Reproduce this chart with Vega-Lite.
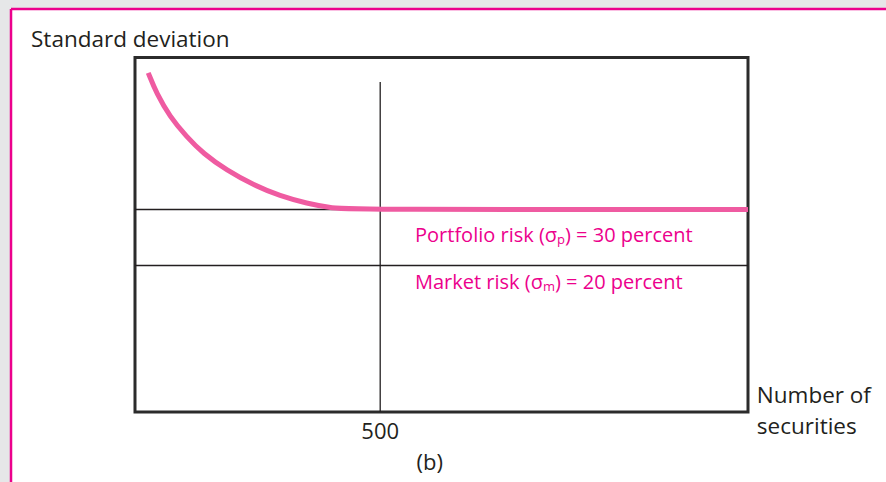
{
  "$schema": "https://vega.github.io/schema/vega-lite/v6.json",
  "width": 875,
  "height": 473,
  "autosize": {"type": "none"},
  "padding": {"left": 11, "top": 9, "right": 0, "bottom": 0},
  "background": "#e6e7e8",
  "config": {"view": {"fill": "white", "stroke": null}, "font": "Open Sans"},
  "datasets": {
    "curve": [
      {"x": 27, "y": 54.4}, {"x": 44, "y": 50.7}, {"x": 71, "y": 46.6}, {"x": 105, "y": 43.0},
      {"x": 139, "y": 40.0}, {"x": 187, "y": 37.0}, {"x": 241, "y": 34.4}, {"x": 296, "y": 32.4},
      {"x": 350, "y": 31.1}, {"x": 404, "y": 30.2}, {"x": 445, "y": 30}, {"x": 1250, "y": 30}
    ],
    "segments": [
      {"x": 0, "x2": 1250, "y": 30, "y2": 30},
      {"x": 0, "x2": 1250, "y": 20, "y2": 20},
      {"x": 500, "x2": 500, "y": -6.16, "y2": 52.77}
    ],
    "box": [{"x": 0, "x2": 1250, "y": -6.16, "y2": 57.14}],
    "riskLabels": [
      {"x": 571, "y": 25.3, "label": "Portfolio risk (σₚ) = 30 percent"},
      {"x": 571, "y": 16.9, "label": "Market risk (σₘ) = 20 percent"}
    ],
    "axisLabels": [
      {"x": -212, "y": 60.3, "label": "Standard deviation"},
      {"x": 1268, "y": -3.3, "label": "Number of"},
      {"x": 1268, "y": -8.84, "label": "securities"}
    ],
    "centerLabels": [
      {"x": 500, "y": -9.73, "label": "500"},
      {"x": 601, "y": -15.27, "label": "(b)"}
    ]
  },
  "layer": [
    {
      "data": {"name": "box"},
      "mark": {"type": "rect", "fillOpacity": 0, "stroke": "#2b2b2b", "strokeWidth": 3},
      "encoding": {
        "x": {"field": "x", "type": "quantitative", "scale": {"domain": [-252.85, 1531.4], "nice": false, "zero": false}, "axis": null},
        "x2": {"field": "x2"},
        "y": {"field": "y", "type": "quantitative", "scale": {"domain": [-18.66, 65.8], "nice": false, "zero": false}, "axis": null},
        "y2": {"field": "y2"}
      }
    },
    {
      "data": {"name": "segments"},
      "mark": {"type": "rule", "color": "#231f20", "strokeWidth": 1.3},
      "encoding": {
        "x": {"field": "x", "type": "quantitative", "scale": {"domain": [-252.85, 1531.4], "nice": false, "zero": false}, "axis": null},
        "x2": {"field": "x2"},
        "y": {"field": "y", "type": "quantitative", "scale": {"domain": [-18.66, 65.8], "nice": false, "zero": false}, "axis": null},
        "y2": {"field": "y2"}
      }
    },
    {
      "data": {"name": "curve"},
      "mark": {"type": "line", "color": "#ef5ba1", "strokeWidth": 5, "interpolate": "basis", "strokeCap": "butt"},
      "encoding": {
        "x": {"field": "x", "type": "quantitative", "scale": {"domain": [-252.85, 1531.4], "nice": false, "zero": false}, "axis": null},
        "y": {"field": "y", "type": "quantitative", "scale": {"domain": [-18.66, 65.8], "nice": false, "zero": false}, "axis": null}
      }
    },
    {
      "data": {"name": "riskLabels"},
      "mark": {"type": "text", "align": "left", "baseline": "middle", "fontSize": 20, "color": "#ec008c"},
      "encoding": {
        "x": {"field": "x", "type": "quantitative", "scale": {"domain": [-252.85, 1531.4], "nice": false, "zero": false}, "axis": null},
        "y": {"field": "y", "type": "quantitative", "scale": {"domain": [-18.66, 65.8], "nice": false, "zero": false}, "axis": null},
        "text": {"field": "label"}
      }
    },
    {
      "data": {"name": "axisLabels"},
      "mark": {"type": "text", "align": "left", "baseline": "middle", "fontSize": 22.5, "color": "#231f20"},
      "encoding": {
        "x": {"field": "x", "type": "quantitative", "scale": {"domain": [-252.85, 1531.4], "nice": false, "zero": false}, "axis": null},
        "y": {"field": "y", "type": "quantitative", "scale": {"domain": [-18.66, 65.8], "nice": false, "zero": false}, "axis": null},
        "text": {"field": "label"}
      }
    },
    {
      "data": {"name": "centerLabels"},
      "mark": {"type": "text", "align": "center", "baseline": "middle", "fontSize": 22, "color": "#231f20"},
      "encoding": {
        "x": {"field": "x", "type": "quantitative", "scale": {"domain": [-252.85, 1531.4], "nice": false, "zero": false}, "axis": null},
        "y": {"field": "y", "type": "quantitative", "scale": {"domain": [-18.66, 65.8], "nice": false, "zero": false}, "axis": null},
        "text": {"field": "label"}
      }
    },
    {
      "data": {"values": [{}]},
      "mark": {"type": "rule", "color": "#ec008c", "strokeWidth": 2.5},
      "encoding": {
        "x": {"datum": -252.85, "type": "quantitative", "scale": {"domain": [-252.85, 1531.4], "nice": false, "zero": false}, "axis": null}
      }
    },
    {
      "data": {"values": [{}]},
      "mark": {"type": "rule", "color": "#ec008c", "strokeWidth": 2.5},
      "encoding": {
        "y": {"datum": 65.8, "type": "quantitative", "scale": {"domain": [-18.66, 65.8], "nice": false, "zero": false}, "axis": null}
      }
    }
  ]
}
